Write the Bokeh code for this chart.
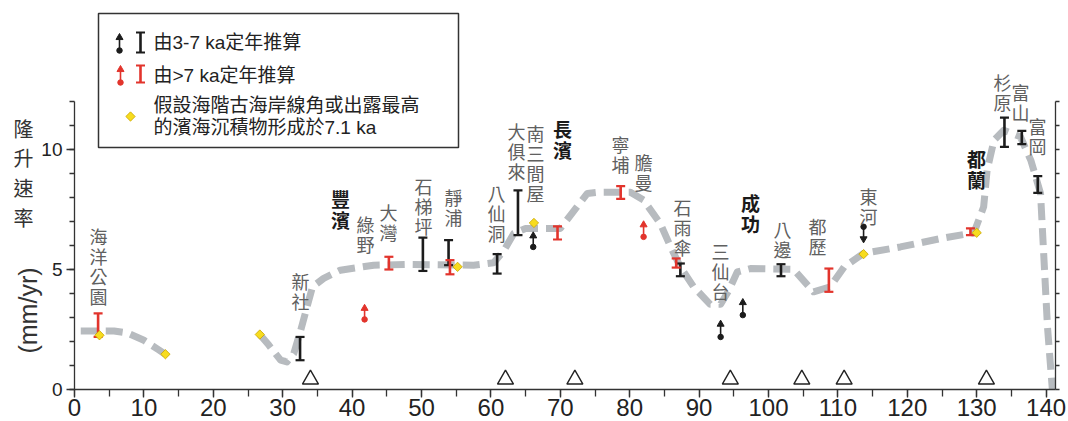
import numpy as np
from bokeh.plotting import figure
from bokeh.models import LinearAxis, SingleIntervalTicker, Range1d, ColumnDataSource
from bokeh.core.properties import value
from bokeh.embed import file_html
from bokeh.resources import INLINE

# ---------------------------------------------------------------------------
# Coastal uplift rates along the east coast (distance in km, rate in mm/yr)
# ---------------------------------------------------------------------------

# dashed trend line (two pieces)
trend_a_km = [0.9, 5.7, 7.6, 10.0, 12.2, 13.1]
trend_a_rate = [2.44, 2.44, 2.36, 2.05, 1.64, 1.46]

trend_b_km = [26.7, 28.0, 29.7, 30.6, 31.6, 32.6, 33.5, 34.3, 35.9, 38.3, 43.1, 47.9,
              57.5, 60.4, 61.9, 63.3, 65.0, 70.0, 72.4, 73.9, 75.5, 80.1, 82.0, 84.4,
              85.9, 87.3, 89.2, 91.6, 93.1, 94.3, 95.5, 97.4, 103.6, 106.5, 108.9,
              110.9, 113.7, 119.0, 124.8, 129.6, 131.0, 131.5, 132.5, 133.9, 136.3,
              137.8, 139.2, 139.7, 140.2, 140.9]
trend_b_rate = [2.29, 1.85, 1.22, 1.15, 1.50, 2.47, 3.44, 4.28, 4.63, 4.97, 5.18, 5.21,
                5.18, 5.28, 5.80, 6.50, 6.71, 6.71, 7.61, 8.17, 8.22, 8.22, 7.89, 6.92,
                5.94, 5.11, 4.28, 3.55, 3.55, 4.14, 4.90, 5.04, 5.01, 4.07, 4.28,
                5.11, 5.67, 5.94, 6.29, 6.53, 7.61, 9.14, 10.39, 10.80, 10.53,
                9.55, 8.17, 5.39, 2.61, 0.0]

# rate ranges dated 3-7 ka (black)
young_km = [32.5, 50.2, 53.9, 60.9, 63.9, 87.3, 101.8, 134.0, 136.5, 138.8]
young_lo = [1.22, 4.94, 5.18, 4.83, 6.43, 4.72, 4.72, 10.11, 10.22, 8.19]
young_hi = [2.19, 6.33, 6.22, 5.64, 8.30, 5.25, 5.22, 11.33, 10.78, 8.89]

# rate ranges dated >7 ka (red)
old_km = [3.4, 45.3, 54.1, 69.6, 78.7, 86.7, 108.7, 129.1]
old_lo = [2.19, 5.00, 4.80, 6.25, 7.94, 5.08, 4.07, 6.43]
old_hi = [3.17, 5.53, 5.39, 6.80, 8.47, 5.46, 5.04, 6.71]

# minimum / maximum estimates: value at the dot, value at the arrow tip
young_arrow_km = [66.1, 93.1, 96.3, 113.7]
young_arrow_base = [5.94, 2.19, 3.10, 6.78]
young_arrow_tip = [6.57, 2.89, 3.79, 6.11]

old_arrow_km = [41.8, 82.0]
old_arrow_base = [2.92, 6.36]
old_arrow_tip = [3.55, 7.03]

# paleo-shoreline angle / highest beach deposit assumed 7.1 ka
shoreline_km = [3.6, 13.1, 26.7, 55.2, 66.2, 113.7, 130.0]
shoreline_rate = [2.26, 1.47, 2.29, 5.11, 6.94, 5.64, 6.53]

# open triangles along the base line
triangle_km = [34.0, 62.1, 72.1, 94.5, 104.8, 110.9, 131.4]

# site names (written top to bottom) and town names (bold)
site_names = ["海洋公園", "新社", "綠野", "大灣", "石梯坪", "靜浦", "八仙洞", "大俱來",
              "南三間屋", "寧埔", "膽曼", "石雨傘", "三仙台", "八邊", "都歷", "東河",
              "杉原", "富山", "富岡"]
town_names = ["豐濱", "長濱", "成功", "都蘭"]

x_tick_labels = ["0", "10", "20", "30", "40", "50", "60", "70", "80", "90", "100",
                 "110", "120", "130", "140"]
y_tick_labels = ["0", "5", "10"]

y_title = "隆升速率"
y_unit = "(mm/yr)"
key_texts = ["由3-7 ka定年推算", "由>7 ka定年推算",
             "假設海階古海岸線角或出露最高", "的濱海沉積物形成於7.1 ka"]

# ---------------------------------------------------------------------------
# layout: the frame fills the whole canvas, axes sit at fixed data positions
# ---------------------------------------------------------------------------
W, H = 1068, 421
X0_PX, Y0_PX = 74, 389          # canvas position of (0 km, 0 mm/yr)
PX_KM = 6.94
PX_RATE = 24.0
AXIS_X_END = 141.35
AXIS_Y_END = 12


def sx(px):
    """canvas pixel column -> km"""
    return (px - X0_PX) / PX_KM


def sy(py):
    """canvas pixel row -> mm/yr"""
    return (Y0_PX - py) / PX_RATE


# name anchors: centre column and top row of the first character (canvas px)
site_anchor_px = [(98, 227), (300, 272), (365, 215), (388, 203), (423, 177), (453, 188),
                  (496, 184), (516, 122), (535, 124), (620, 135), (643, 153), (682, 198),
                  (720, 242), (782, 220), (817, 217), (868, 187), (1002, 73), (1020, 83),
                  (1037, 117)]
town_anchor_px = [(340, 188), (562, 118), (750, 192), (976, 148)]

BLACK = "#1c1c1c"
RED = "#e2342c"
GREY_LINE = "#b7bbbf"
YELLOW = "#f7dc1e"
AXIS_COL = "#333333"
CJK = "Noto Sans CJK TC"
LATIN = "'Liberation Sans', 'Noto Sans CJK TC', sans-serif"

p = figure(width=W, height=H,
           x_range=Range1d(sx(0), sx(W)), y_range=Range1d(sy(H), sy(0)),
           x_axis_type=None, y_axis_type=None,
           output_backend="svg", toolbar_location=None,
           min_border_left=0, min_border_right=0, min_border_top=0, min_border_bottom=0)
p.outline_line_color = None
p.background_fill_color = "white"
p.border_fill_color = "white"


def style_axis(ax, tick_out, minor_out, font_size, standoff):
    ax.axis_line_color = AXIS_COL
    ax.axis_line_width = 1.3
    ax.major_tick_line_color = AXIS_COL
    ax.minor_tick_line_color = AXIS_COL
    ax.major_tick_line_width = 1.3
    ax.minor_tick_line_width = 1.3
    ax.major_tick_in = 0
    ax.minor_tick_in = 0
    ax.major_tick_out = tick_out
    ax.minor_tick_out = minor_out
    ax.major_label_text_font = "Liberation Sans"
    ax.major_label_text_font_size = font_size
    ax.major_label_text_color = "#222222"
    ax.major_label_standoff = standoff


xaxis = LinearAxis(ticker=SingleIntervalTicker(interval=10, num_minor_ticks=2),
                   bounds=(0, AXIS_X_END), fixed_location=0)
xaxis.major_label_overrides = {i * 10: t for i, t in enumerate(x_tick_labels)}
style_axis(xaxis, 8, 7, "24px", 1)
p.add_layout(xaxis, "below")

yaxis = LinearAxis(ticker=SingleIntervalTicker(interval=5, num_minor_ticks=5),
                   bounds=(0, AXIS_Y_END), fixed_location=0)
yaxis.major_label_overrides = {i * 5: t for i, t in enumerate(y_tick_labels)}
style_axis(yaxis, 8, 5, "19px", 4)
p.add_layout(yaxis, "left")

raxis = LinearAxis(ticker=SingleIntervalTicker(interval=1, num_minor_ticks=0),
                   bounds=(0, AXIS_Y_END), fixed_location=AXIS_X_END)
style_axis(raxis, 4, 0, "0px", 0)
raxis.minor_tick_line_color = None
raxis.major_label_overrides = {i: "" for i in range(13)}
p.add_layout(raxis, "right")

# trend line
for xs, ys in [(trend_a_km, trend_a_rate), (trend_b_km, trend_b_rate)]:
    p.line(xs, ys, line_color=GREY_LINE, line_width=7, line_dash="17 8", line_cap="butt",
           line_join="round")


def ibars(km, lo, hi, color):
    p.segment(x0=km, y0=lo, x1=km, y1=hi, line_color=color, line_width=2.6)
    p.scatter(km, lo, marker="dash", size=9, line_color=color, line_width=2.2)
    p.scatter(km, hi, marker="dash", size=9, line_color=color, line_width=2.2)


HEAD = 7.0
HEAD_OFF = HEAD * 0.577 / PX_RATE


def arrows(km, base, tip, color):
    km = np.asarray(km, float)
    base = np.asarray(base, float)
    tip = np.asarray(tip, float)
    sign = np.sign(tip - base)
    head = tip - sign * HEAD_OFF
    p.segment(x0=km, y0=base, x1=km, y1=head, line_color=color, line_width=1.6)
    p.scatter(km, base, marker="circle", size=5.5, fill_color=color, line_color=color)
    up = sign > 0
    if up.any():
        p.scatter(km[up], head[up], marker="triangle", size=HEAD, fill_color=color,
                  line_color=color)
    if (~up).any():
        p.scatter(km[~up], head[~up], marker="inverted_triangle", size=HEAD,
                  fill_color=color, line_color=color)


def diamonds(km, rate):
    p.scatter(km, rate, marker="square", angle=np.pi / 4, size=6.6, fill_color=YELLOW,
              line_color="#c9a400", line_width=0.8)


ibars(young_km, young_lo, young_hi, BLACK)
ibars(old_km, old_lo, old_hi, RED)
arrows(young_arrow_km, young_arrow_base, young_arrow_tip, BLACK)
arrows(old_arrow_km, old_arrow_base, old_arrow_tip, RED)
diamonds(shoreline_km, shoreline_rate)

p.scatter(triangle_km, [0.42] * len(triangle_km), marker="triangle", size=16,
          fill_color="white", line_color="#222222", line_width=1.4)


def vertical_words(words, anchors, pitch, half):
    """one character per row, stacked downwards from each anchor"""
    xs, ys, ts = [], [], []
    for word, (cx, top) in zip(words, anchors):
        for i, ch in enumerate(word):
            xs.append(sx(cx))
            ys.append(sy(top + half + i * pitch))
            ts.append(ch)
    return ColumnDataSource(dict(x=xs, y=ys, text=ts))


p.text(x="x", y="y", text="text", source=vertical_words(site_names, site_anchor_px, 20, 8.5),
       text_font=value(CJK), text_font_size="18px", text_color="#606060",
       text_align="center", text_baseline="middle")
p.text(x="x", y="y", text="text", source=vertical_words(town_names, town_anchor_px, 21, 9.5),
       text_font=value(CJK), text_font_size="19px", text_font_style="bold",
       text_color="#1a1a1a", text_align="center", text_baseline="middle")

# axis title
p.text(x="x", y="y", text="text", source=vertical_words([y_title], [(23, 118)], 29.7, 9.5),
       text_font=value(CJK), text_font_size="20px", text_color="#333333",
       text_align="center", text_baseline="middle")
p.text(x=[sx(27)], y=[sy(310)], text=[y_unit], angle=np.pi / 2, text_font=value(LATIN),
       text_font_size="25px", text_color="#333333", text_align="center",
       text_baseline="middle")

# key
p.quad(left=[sx(98)], right=[sx(458)], top=[sy(13)], bottom=[sy(147)],
       fill_color="white", line_color="#333333", line_width=1.5)
arrows([sx(119)], [sy(50)], [sy(33)], BLACK)
ibars([sx(140)], [sy(52)], [sy(32)], BLACK)
arrows([sx(120)], [sy(82)], [sy(65)], RED)
ibars([sx(140)], [sy(82)], [sy(65)], RED)
diamonds([sx(130)], [sy(116)])
p.text(x=[sx(153)] * 4, y=[sy(42), sy(75), sy(105), sy(127)], text=key_texts,
       text_font=value(LATIN), text_font_size="19px", text_color="#222222",
       text_baseline="middle")

open("out.html", "w").write(file_html(p, INLINE))
